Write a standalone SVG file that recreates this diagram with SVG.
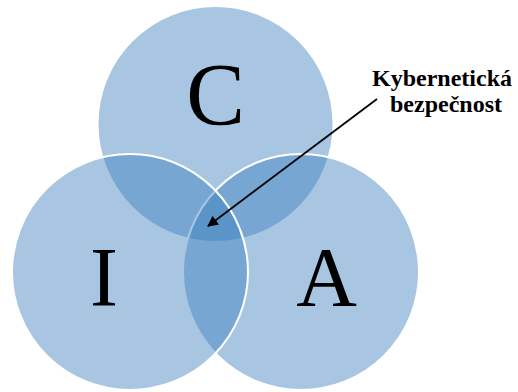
<svg xmlns="http://www.w3.org/2000/svg" width="518" height="392" viewBox="0 0 518 392">
<style>
.c{fill:#387EBD;fill-opacity:0.44;stroke:#fff;stroke-width:2}
.big{font-family:"Liberation Serif","Times New Roman",serif;font-size:84px;fill:#000;text-anchor:middle}
.lbl{font-family:"Liberation Serif","Times New Roman",serif;font-size:24px;font-weight:bold;fill:#000;text-anchor:middle}
</style>
<defs>
<marker id="ah" viewBox="0 0 10 10" refX="9" refY="5" markerWidth="6" markerHeight="6" orient="auto" markerUnits="strokeWidth">
<path d="M0,0 L10,5 L0,10 z" fill="#000"/>
</marker>
</defs>
<rect width="518" height="392" fill="#fff"/>
<g id="C"><circle class="c" cx="215.5" cy="124" r="118"/><text class="big" x="215.5" y="124" style="font-size:88px">C</text></g>
<g id="A"><circle class="c" cx="301" cy="272" r="118"/><text class="big" x="326.5" y="306">A</text></g>
<g id="I"><circle class="c" cx="130" cy="272" r="118"/><text class="big" x="104" y="306">I</text></g>
<g id="label"><text class="lbl" x="442" y="86">Kybernetická</text><text class="lbl" x="446" y="112">bezpečnost</text></g>
<g id="connectors"><line x1="377" y1="99" x2="208" y2="226" stroke="#000" stroke-width="1.8" marker-end="url(#ah)"/></g>
</svg>
